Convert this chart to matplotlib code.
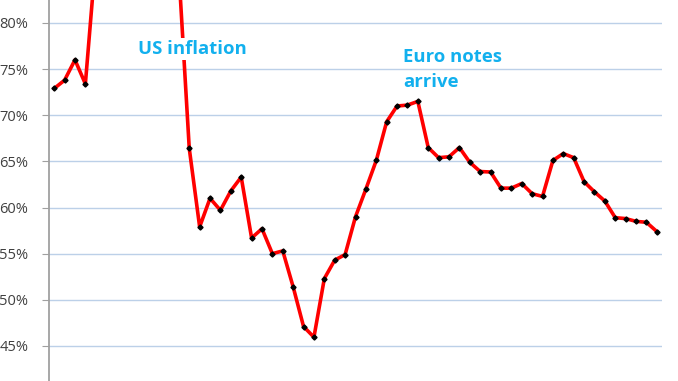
import matplotlib
matplotlib.use("Agg")
from matplotlib import pyplot as plt
from matplotlib.ticker import PercentFormatter

# share by period (points 4-12 lie above the visible top of the chart)
share = [72.9, 73.8, 76.0, 73.4,
         87.0, 90.0, 91.0, 90.0, 92.0, 90.0, 89.0, 88.0, 85.5,
         66.4, 57.9, 61.0, 59.7, 61.8, 63.3, 56.7, 57.7, 55.0, 55.3,
         51.4, 47.1, 45.95, 52.3, 54.3, 54.9, 59.0, 62.0, 65.1, 69.3,
         71.0, 71.1, 71.5, 66.5, 65.4, 65.5, 66.5, 64.9, 63.9, 63.85,
         62.1, 62.1, 62.6, 61.5, 61.2, 65.1, 65.85, 65.4, 62.8, 61.7,
         60.7, 58.9, 58.8, 58.5, 58.4, 57.4]
periods = list(range(len(share)))
yticks = [45, 50, 55, 60, 65, 70, 75, 80]

fig = plt.figure(figsize=(6.78, 3.81), dpi=100)
ax = fig.add_axes([49 / 678, 0, 613 / 678, 1])

ax.plot(periods, share, color="#FF0000", lw=2.6, zorder=3, clip_on=True)
ax.plot(periods, share, ls="none", marker="D", ms=2.6, color="black", zorder=4)

ax.set_xlim(-0.5, len(share) - 0.5)
ax.set_ylim(41.2, 82.49)
ax.set_yticks(yticks)
ax.yaxis.set_major_formatter(PercentFormatter(decimals=0))
ax.set_xticks([])
ax.grid(axis="y", color="#BCD0E8", lw=1)
ax.set_axisbelow(True)
for s in ["top", "right", "bottom"]:
    ax.spines[s].set_visible(False)
ax.spines["left"].set_color("#A0A0A0")
ax.spines["left"].set_linewidth(1.3)
ax.tick_params(axis="y", length=5, color="#A0A0A0", labelsize=10.5,
               labelcolor="#404040", pad=10)
for lab in ax.get_yticklabels():
    lab.set_family("Open Sans")

ax.text(8.1, 77.2, "US inflation", color="#12B0EE", fontsize=13.3,
        fontweight="bold", family="Open Sans", va="center", ha="left",
        zorder=6, bbox=dict(boxstyle="square,pad=0.1", fc="white", ec="none"))
ax.text(33.6, 74.96, "Euro notes\narrive", color="#12B0EE", fontsize=13.3,
        fontweight="bold", family="Open Sans", va="center", ha="left",
        linespacing=1.45)

fig.savefig("out.png", dpi=100)
